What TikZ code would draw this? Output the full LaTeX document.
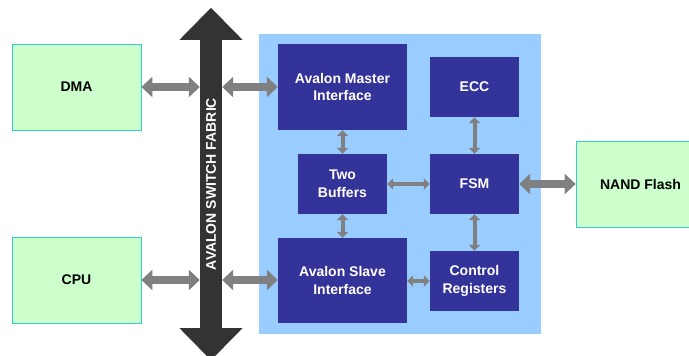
\documentclass[tikz,border=0pt]{standalone}
\usepackage{fontspec}
\setmainfont{Liberation Sans}
\usetikzlibrary{arrows.meta}
\definecolor{boxgreen}{HTML}{CCFFCC}
\definecolor{boxteal}{HTML}{33CCCC}
\definecolor{blkblue}{HTML}{333399}
\definecolor{regionblue}{HTML}{99CCFF}
\definecolor{arrgray}{HTML}{808080}
\definecolor{busdark}{HTML}{333333}
\tikzset{
  lbl/.style={font=\fontsize{14}{17.5}\selectfont\bfseries, align=center, inner sep=0pt},
  extbox/.style={lbl, draw=boxteal, fill=boxgreen, line width=0.8pt, text=black,
                 minimum width=129pt, minimum height=86pt},
  blk/.style={lbl, fill=blkblue, text=white, minimum width=89pt, minimum height=60pt},
  bigblk/.style={blk, minimum width=129pt, minimum height=86pt},
  fatarrow/.style={draw=arrgray, line width=8pt,
     {Triangle[length=11pt,width=20pt]}-{Triangle[length=11pt,width=20pt]}},
  thinarrow/.style={draw=arrgray, line width=4pt,
     {Triangle[length=6pt,width=11pt]}-{Triangle[length=6pt,width=11pt]}}
}
\begin{document}
\begin{tikzpicture}[x=1pt,y=-1pt]
\useasboundingbox (0,0) rectangle (689,356);
\begin{scope}
\clip (0,0) rectangle (689,356);
% region
\fill[regionblue] (259,34) rectangle (541,334);
% external boxes
\node[extbox] (dma) at (76.5,87) {DMA};
\node[extbox] (cpu) at (76.5,280) {CPU};
\node[extbox] (nand) at (640.5,184) {NAND Flash};
% bus
\node[fill=busdark, minimum width=22pt, minimum height=288pt, inner sep=0pt] (bus) at (211,184) {};
\fill[busdark] ([xshift=-31.5pt]bus.north) -- ([yshift=32pt]bus.north) -- ([xshift=31.5pt]bus.north) -- cycle;
\fill[busdark] ([xshift=-31.5pt]bus.south) -- ([yshift=-32pt]bus.south) -- ([xshift=31.5pt]bus.south) -- cycle;
\node[lbl, text=white, rotate=90] (buslabel) at (bus.center) {AVALON SWITCH FABRIC};
% internal blocks
\node[bigblk] (master) at (342.5,87) {Avalon Master\\Interface};
\node[blk] (ecc) at (474.5,87) {ECC};
\node[blk] (buffers) at (342.5,184) {Two\\Buffers};
\node[blk] (fsm) at (474.5,184) {FSM};
\node[bigblk, minimum height=85pt] (slave) at (342.5,280.5) {Avalon Slave\\Interface};
\node[blk] (control) at (474.5,281) {Control\\Registers};
% connectors
\draw[fatarrow] (dma.east) -- (dma.east -| bus.west);
\draw[fatarrow] (bus.east |- master.west) -- (master.west);
\draw[fatarrow] (cpu.east) -- (cpu.east -| bus.west);
\draw[fatarrow] (bus.east |- cpu.east) -- (slave.west |- cpu.east);
\draw[fatarrow] (fsm.east) -- (nand.west);
\draw[thinarrow] (master.south) -- (buffers.north);
\draw[thinarrow] (buffers.south) -- (slave.north);
\draw[thinarrow] (ecc.south) -- (fsm.north);
\draw[thinarrow] (fsm.south) -- (control.north);
\draw[thinarrow] (buffers.east) -- (fsm.west);
\draw[thinarrow] (slave.east |- control.west) -- (control.west);
\end{scope}
\end{tikzpicture}
\end{document}
